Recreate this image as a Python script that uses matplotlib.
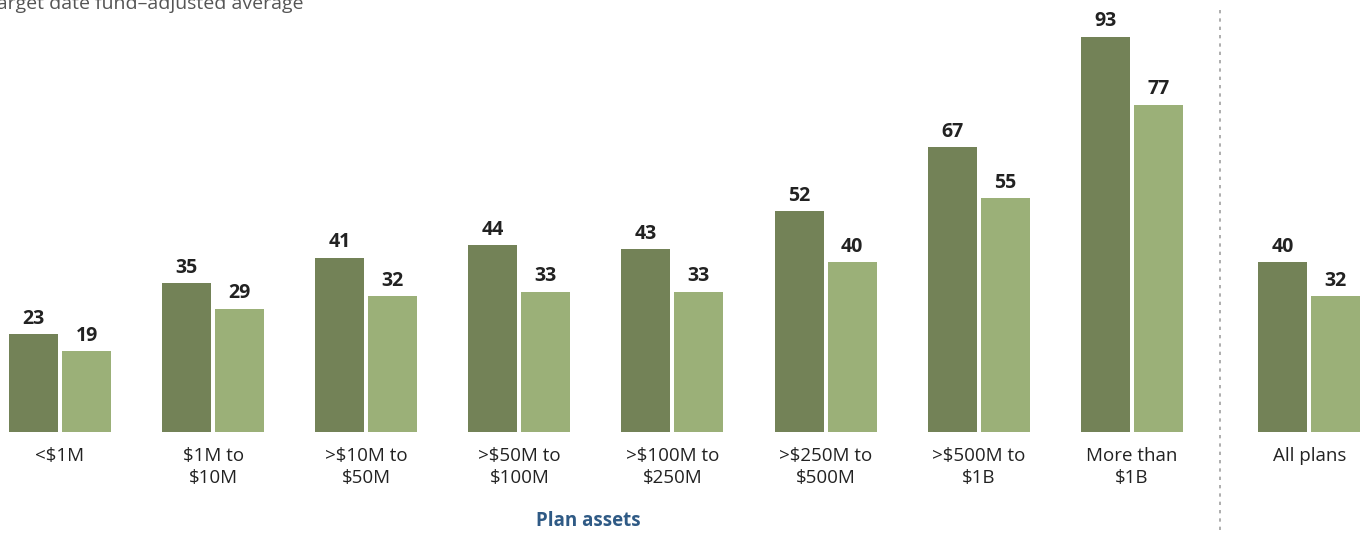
import matplotlib.pyplot as plt
import numpy as np

# Data
categories = ['<$1M', '$1M to\n$10M', '>$10M to\n$50M', '>$50M to\n$100M', '>$100M to\n$250M',
              '>$250M to\n$500M', '>$500M to\n$1B', 'More than\n$1B', 'All plans']
series_a = [23, 35, 41, 44, 43, 52, 67, 93, 40]
series_b = [19, 29, 32, 33, 33, 40, 55, 77, 32]

dark = '#738257'
light = '#9bb078'

plt.rcParams['font.family'] = ['Open Sans', 'DejaVu Sans']

fig = plt.figure(figsize=(13.68, 5.33), dpi=100)
ax = fig.add_axes([0, 101 / 533, 1, 432 / 533])

x = np.arange(len(categories), dtype=float)
x[-1] = 8.16  # "All plans" sits apart, past the divider
w = 0.32
off = 0.173

bars_a = ax.bar(x - off, series_a, width=w, color=dark)
bars_b = ax.bar(x + off, series_b, width=w, color=light)

for bars in (bars_a, bars_b):
    for b in bars:
        ax.annotate(f'{int(b.get_height())}', (b.get_x() + b.get_width() / 2, b.get_height()),
                    xytext=(0, 4), textcoords='offset points', ha='center', va='bottom',
                    fontsize=14, fontweight='bold', color='#222222')

ax.set_xlim(-0.392, 8.543)
ax.set_ylim(0, 101.7)
ax.set_xticks(x)
ax.set_xticklabels(categories, fontsize=13.5, color='#222222', linespacing=1.25)
ax.tick_params(axis='x', length=0, pad=11)
ax.set_yticks([])
for s in ax.spines.values():
    s.set_visible(False)

# divider before "All plans"
fig.add_artist(plt.Line2D([1220 / 1368, 1220 / 1368], [3 / 533, 523 / 533],
                          color='#a0a0a0', lw=1.2, ls=(0, (2, 3))))

fig.text(588 / 1368, 1 - 521 / 533, 'Plan assets', ha='center', va='center',
         fontsize=13.5, fontweight='bold', color='#2f5a85')
fig.text(-14 / 1368, 1 - 4 / 533, 'Target date fund–adjusted average', ha='left', va='center',
         fontsize=14, color='#555555')

fig.savefig('out.png', dpi=100)
